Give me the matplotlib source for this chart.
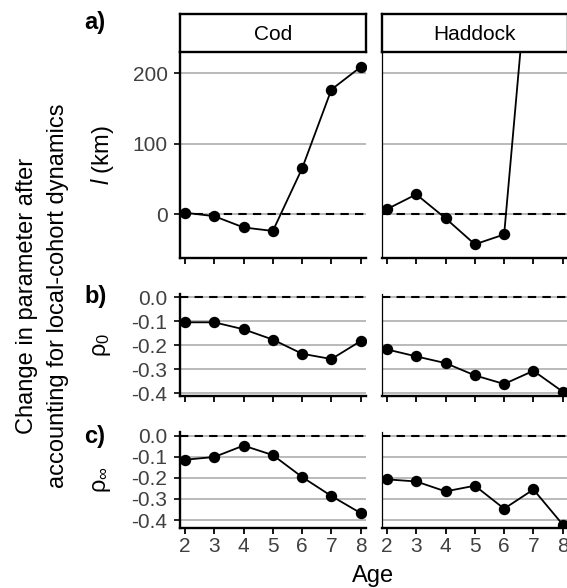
import matplotlib
matplotlib.use("Agg")
import matplotlib.pyplot as plt

# =============================================================================
# Data
# =============================================================================

AGES = [2, 3, 4, 5, 6, 7, 8]
SPECIES = ["Cod", "Haddock"]

L_COD = [2, -3, -19, -24, 65, 177, 209]
L_HADDOCK = [7, 28, -6, -43, -29, 440, 440]

RHO0_COD = [-0.104, -0.104, -0.133, -0.176, -0.235, -0.257, -0.182]
RHO0_HADDOCK = [-0.217, -0.246, -0.274, -0.325, -0.361, -0.306, -0.393]

RHOINF_COD = [-0.114, -0.101, -0.047, -0.092, -0.196, -0.286, -0.367]
RHOINF_HADDOCK = [-0.207, -0.217, -0.264, -0.237, -0.346, -0.255, -0.421]

L_TICKS = [0, 100, 200]
RHO_TICKS = [0.0, -0.1, -0.2, -0.3, -0.4]
RHO_TICKLABELS = ["0.0", "-0.1", "-0.2", "-0.3", "-0.4"]

ROW_LABELS = [r"$\mathit{l}$ (km)", r"ρ$_0$", r"ρ$_\infty$"]
PANEL_TAGS = ["a)", "b)", "c)"]

# =============================================================================
# Layout / style
# =============================================================================

W, H = 567, 588
DPI = 100
FONT = "Liberation Sans"
FS_TICK = 15
FS_STRIP = 15
FS_TITLE = 17
GRID_COLOR = "#bababa"
TICK_COLOR = "#404040"

plt.rcParams["font.family"] = [FONT, "DejaVu Sans"]
plt.rcParams["mathtext.fontset"] = "custom"
plt.rcParams["mathtext.rm"] = FONT
plt.rcParams["mathtext.it"] = FONT + ":italic"

# panel edges in pixels (left, right) and (top, bottom)
COLS = [(180, 365.7), (382, 567.7)]
ROWS = [(52, 257.7), (294, 396), (432.3, 527.7)]
STRIP = (14, 52)
XLIM = (1.83, 8.17)
YLIMS = [(-62, 230.3), (-0.411, 0.014), (-0.436, 0.016)]


def px_rect(x0, x1, y0, y1):
    return [x0 / W, 1 - y1 / H, (x1 - x0) / W, (y1 - y0) / H]


fig = plt.figure(figsize=(W / DPI, H / DPI), dpi=DPI)
fig.patch.set_facecolor("white")

data = [
    (L_COD, L_HADDOCK),
    (RHO0_COD, RHO0_HADDOCK),
    (RHOINF_COD, RHOINF_HADDOCK),
]

for r, (top, bot) in enumerate(ROWS):
    for c, (left, right) in enumerate(COLS):
        ax = fig.add_axes(px_rect(left, right, top, bot))
        ax.set_xlim(*XLIM)
        ax.set_ylim(*YLIMS[r])

        if r == 0:
            ticks = L_TICKS
            labels = [str(t) for t in L_TICKS]
        else:
            ticks = RHO_TICKS
            labels = RHO_TICKLABELS

        # horizontal grid + dashed zero line
        for t in ticks:
            ax.axhline(t, color=GRID_COLOR, lw=1.4, zorder=1)
        ax.axhline(0, color="black", lw=1.5, dashes=(4, 3), zorder=2)

        ax.plot(AGES, data[r][c], color="black", lw=1.3, marker="o",
                ms=7.2, zorder=3)

        for side in ("top", "right"):
            ax.spines[side].set_visible(False)
        ax.spines["bottom"].set_linewidth(1.7)
        ax.spines["left"].set_linewidth(1.7 if c == 0 else 0.9)

        ax.set_xticks(AGES)
        ax.tick_params(axis="x", length=4, width=1.3, color="black",
                       pad=3, labelsize=FS_TICK, labelcolor=TICK_COLOR)
        if r < 2:
            ax.tick_params(axis="x", labelbottom=False)

        if c == 0:
            ax.set_yticks(ticks)
            ax.set_yticklabels(labels)
            ax.tick_params(axis="y", length=4.5, width=1.2, color="black",
                           pad=4.5, labelsize=FS_TICK, labelcolor=TICK_COLOR)
        else:
            ax.set_yticks([])

        # facet strips
        if r == 0:
            sax = fig.add_axes(px_rect(left, right, STRIP[0], STRIP[1]))
            sax.set_xticks([])
            sax.set_yticks([])
            for sp in sax.spines.values():
                sp.set_linewidth(1.7)
            sax.text(0.5, 0.47, SPECIES[c], ha="center", va="center",
                     fontsize=FS_STRIP, transform=sax.transAxes)

    # row label
    yc = 1 - (top + bot) / 2 / H
    fig.text(102 / W, yc, ROW_LABELS[r], rotation=90, ha="center",
             va="center", fontsize=FS_TITLE)

tag_y = [23, 297, 436]
for tag, ty in zip(PANEL_TAGS, tag_y):
    fig.text(84 / W, 1 - ty / H, tag, ha="left", va="center",
             fontsize=FS_TITLE, fontweight="bold")

# common axis titles
ymid = 1 - 296 / H
fig.text(27 / W, ymid, "Change in parameter after", rotation=90,
         ha="center", va="center", fontsize=FS_TITLE)
fig.text(58 / W, ymid, "accounting for local-cohort dynamics", rotation=90,
         ha="center", va="center", fontsize=FS_TITLE)
fig.text((COLS[0][0] + W) / 2 / W, 1 - 582 / H, "Age", ha="center",
         va="baseline", fontsize=FS_TITLE)

fig.savefig("out.png", dpi=DPI, facecolor="white")
